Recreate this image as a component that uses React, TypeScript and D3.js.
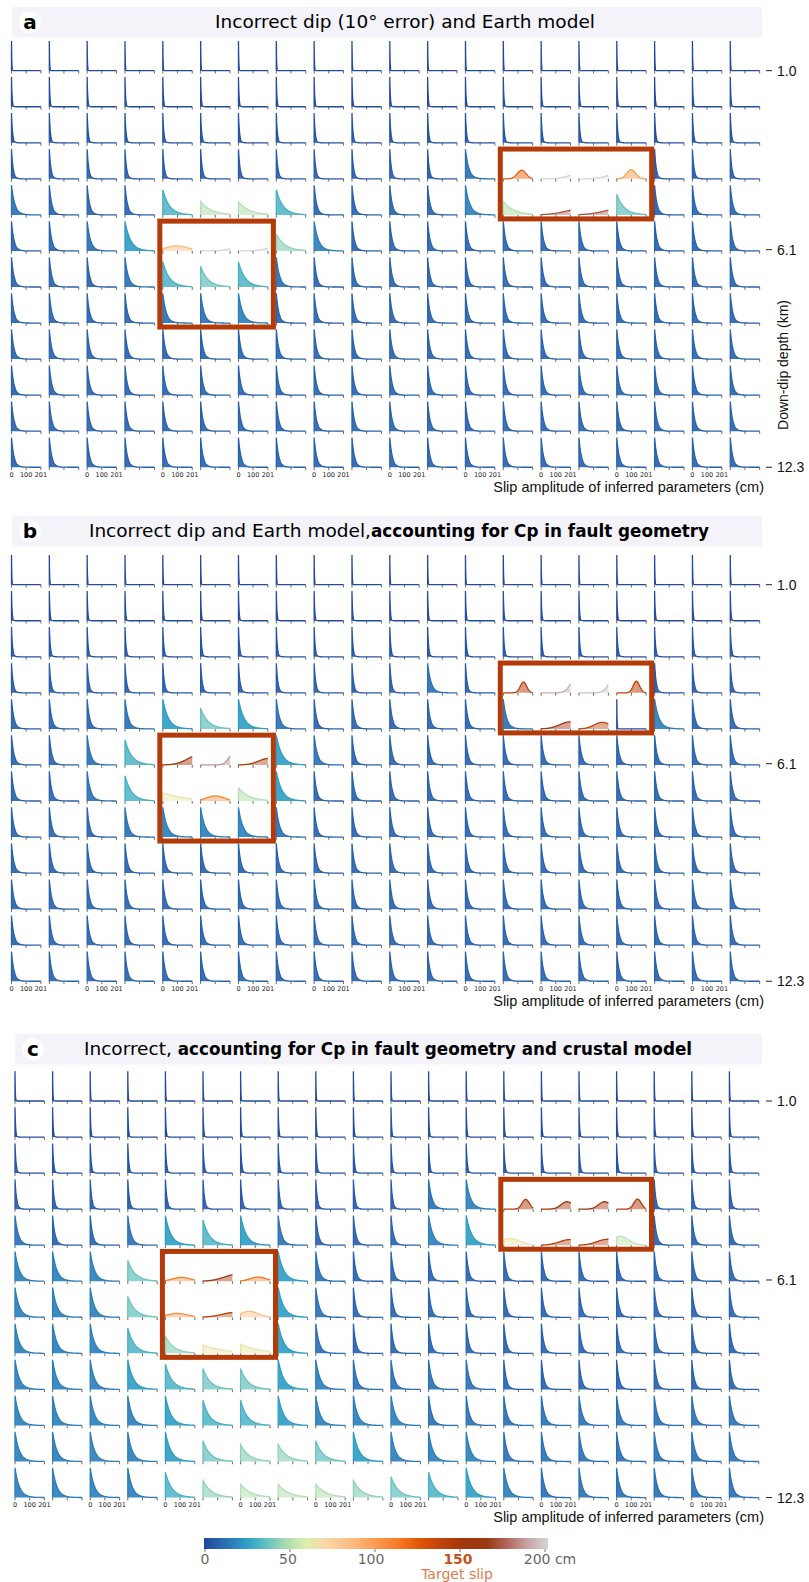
import React from "react";
import * as d3 from "d3";

// ---------------- data ----------------
const xTickValues = [0, 100, 201];
const xTickLabels = ["0", "100", "201"];
const depthTicks = [1.0, 6.1, 12.3];
const colorbarTicks = [0, 50, 100, 150, 200];
const colorbarTickLabels = ["0", "50", "100", "150", "200 cm"];

// decay levels used in the grids: e-folding scale (cm), peak height (fraction), colour slip (cm)
const levelCodes = "0123456789abc";
const levelScale = [2, 4, 7, 11, 17, 23, 30, 38, 45, 50, 58, 70, 120];
const levelPeak = [1, 1, 1, 1, 1, 1, 1, 1, 0.85, 0.7, 0.57, 0.45, 0.3];
const levelSlip = [1, 2, 4, 6, 8, 12, 16, 24, 30, 37, 43, 50, 63];

// rows = down-dip (12), cols = along strike (20); "." = special cell
const gridA = [
  "00000000000000000000",
  "11111111111111111111",
  "22222222222222222222",
  "3333333333335....333",
  "54448bb844446b..9444",
  "4457...a644444444444",
  "44458985444444444444",
  "44445564444444444444",
  "44444444444444444444",
  "44444444444444444444",
  "44444444444444444444",
  "44444444444444444444",
];
const gridB = [
  "00000000000000000000",
  "11111111111111111111",
  "22222222222222222222",
  "3333333333353....333",
  "44457975444445a..644",
  "4458...7544444444444",
  "4458..b7444444444444",
  "44456665444444444444",
  "44444444444444444444",
  "44444444444444444444",
  "44444444444444444444",
  "44444444444444444444",
];
const gridC = [
  "00000000000000000000",
  "11111111111111111111",
  "22222222222222222222",
  "3333333333356....333",
  "5445787544467....444",
  "6669...7544444444444",
  "6669...7544444444444",
  "6668a..7544444444444",
  "66678997655554444444",
  "66667887666555555555",
  "666679aa976665555555",
  "66668abbba9876555555",
];

// special cells: kind "n" = truncated normal (mu, sd), "e" = decay (scale)
type Special = { row: number; col: number; kind: string; p1: number; p2: number; peak: number; slip: number };
const specialsA: Special[] = [
  { row: 3, col: 13, kind: "n", p1: 125, p2: 30, peak: 0.29, slip: 122 },
  { row: 3, col: 14, kind: "n", p1: 320, p2: 90, peak: 0.13, slip: 200 },
  { row: 3, col: 15, kind: "n", p1: 320, p2: 90, peak: 0.12, slip: 200 },
  { row: 3, col: 16, kind: "n", p1: 98, p2: 30, peak: 0.31, slip: 100 },
  { row: 4, col: 14, kind: "n", p1: 330, p2: 130, peak: 0.16, slip: 172 },
  { row: 4, col: 15, kind: "n", p1: 330, p2: 130, peak: 0.16, slip: 172 },
  { row: 5, col: 4, kind: "n", p1: 95, p2: 75, peak: 0.17, slip: 88 },
  { row: 5, col: 5, kind: "n", p1: 330, p2: 80, peak: 0.08, slip: 200 },
  { row: 5, col: 6, kind: "n", p1: 330, p2: 90, peak: 0.1, slip: 200 },
];
const specialsB: Special[] = [
  { row: 3, col: 13, kind: "n", p1: 138, p2: 22, peak: 0.36, slip: 142 },
  { row: 3, col: 14, kind: "n", p1: 240, p2: 40, peak: 0.3, slip: 190 },
  { row: 3, col: 15, kind: "n", p1: 240, p2: 40, peak: 0.28, slip: 195 },
  { row: 3, col: 16, kind: "n", p1: 134, p2: 22, peak: 0.39, slip: 138 },
  { row: 4, col: 14, kind: "n", p1: 200, p2: 70, peak: 0.24, slip: 150 },
  { row: 4, col: 15, kind: "n", p1: 160, p2: 55, peak: 0.22, slip: 138 },
  { row: 5, col: 4, kind: "n", p1: 250, p2: 80, peak: 0.28, slip: 152 },
  { row: 5, col: 5, kind: "n", p1: 240, p2: 40, peak: 0.3, slip: 185 },
  { row: 5, col: 6, kind: "n", p1: 210, p2: 70, peak: 0.22, slip: 145 },
  { row: 6, col: 4, kind: "e", p1: 150, p2: 0, peak: 0.28, slip: 63 },
  { row: 6, col: 5, kind: "n", p1: 100, p2: 60, peak: 0.17, slip: 108 },
];
const specialsC: Special[] = [
  { row: 3, col: 13, kind: "n", p1: 150, p2: 25, peak: 0.33, slip: 145 },
  { row: 3, col: 14, kind: "n", p1: 175, p2: 40, peak: 0.25, slip: 150 },
  { row: 3, col: 15, kind: "n", p1: 175, p2: 40, peak: 0.25, slip: 150 },
  { row: 3, col: 16, kind: "n", p1: 143, p2: 25, peak: 0.34, slip: 145 },
  { row: 4, col: 13, kind: "n", p1: 40, p2: 70, peak: 0.22, slip: 65 },
  { row: 4, col: 14, kind: "n", p1: 195, p2: 70, peak: 0.19, slip: 142 },
  { row: 4, col: 15, kind: "n", p1: 195, p2: 70, peak: 0.2, slip: 142 },
  { row: 4, col: 16, kind: "n", p1: 25, p2: 55, peak: 0.3, slip: 52 },
  { row: 5, col: 4, kind: "n", p1: 110, p2: 60, peak: 0.13, slip: 112 },
  { row: 5, col: 5, kind: "n", p1: 240, p2: 90, peak: 0.22, slip: 150 },
  { row: 5, col: 6, kind: "n", p1: 120, p2: 55, peak: 0.14, slip: 115 },
  { row: 6, col: 4, kind: "n", p1: 80, p2: 70, peak: 0.13, slip: 105 },
  { row: 6, col: 5, kind: "n", p1: 220, p2: 90, peak: 0.16, slip: 140 },
  { row: 6, col: 6, kind: "n", p1: 60, p2: 60, peak: 0.2, slip: 85 },
  { row: 7, col: 5, kind: "e", p1: 140, p2: 0, peak: 0.28, slip: 65 },
  { row: 7, col: 6, kind: "e", p1: 130, p2: 0, peak: 0.31, slip: 63 },
];

// colour map (slip in cm -> colour)
const cmapStops = [0, 5, 15, 24, 34, 44, 52, 60, 70, 85, 100, 115, 125, 138, 150, 165, 176, 188, 200];
const cmapColors = [
  "#22459a", "#2557a7", "#2a79b8", "#2e9cc3", "#55bbc3", "#93d3b7", "#bfe3b0", "#dfedad",
  "#fad9aa", "#fcbd83", "#fb9b4f", "#f3741f", "#e15608", "#bf420a", "#a3360c", "#9b3915",
  "#b3655e", "#c7a5a4", "#d5d5d5",
];

// highlighted blocks (cells)
const highlightBoxes = [
  { c0: 4, c1: 6, r0: 5, r1: 7 },
  { c0: 13, c1: 16, r0: 3, r1: 4 },
];

// ---------------- layout ----------------
const W = 809;
const H = 1582;
const pitchY = 36.05;
const cellW = 29.4;
const cellH = 29.7;

const panels = [
  {
    letter: "a", grid: gridA, specials: specialsA, left: 11.5, pitchX: 37.83, base0: 70.7,
    headerY: 7, headerX0: 12, titleX: 405, depthLabel: true,
    title: [{ t: "Incorrect dip (10° error) and Earth model", b: false }],
  },
  {
    letter: "b", grid: gridB, specials: specialsB, left: 11.5, pitchX: 37.83, base0: 584.7,
    headerY: 516, headerX0: 12, titleX: 399, depthLabel: false,
    title: [
      { t: "Incorrect dip and Earth model,", b: false },
      { t: "accounting for Cp in fault geometry", b: true },
    ],
  },
  {
    letter: "c", grid: gridC, specials: specialsC, left: 15, pitchX: 37.6, base0: 1101,
    headerY: 1034, headerX0: 15, titleX: 388, depthLabel: false,
    title: [
      { t: "Incorrect, ", b: false },
      { t: "accounting for Cp in fault geometry and crustal model", b: true },
    ],
  },
];

const cmap = d3.scaleLinear<string>().domain(cmapStops).range(cmapColors).interpolate(d3.interpolateRgb).clamp(true);

const sampleXs = d3.range(0, 141).map((i) => 201 * Math.pow(i / 140, 2));

function curvePoints(kind: string, p1: number, p2: number, peak: number): [number, number][] {
  if (kind === "e") {
    return sampleXs.map((x) => [x, peak * Math.exp(-x / p1)]);
  }
  const g = (x: number) => Math.exp(-((x - p1) * (x - p1)) / (2 * p2 * p2));
  const gmax = g(Math.max(0, Math.min(201, p1)));
  return sampleXs.map((x) => [x, (peak * g(x)) / gmax]);
}

function Cell({ x0, base, kind, p1, p2, peak, slip }: any) {
  const xs = d3.scaleLinear().domain([0, 201]).range([x0, x0 + cellW]);
  const ys = d3.scaleLinear().domain([0, 1]).range([base, base - cellH]).clamp(true);
  const pts = curvePoints(kind, p1, p2, peak);
  const area = d3.area<[number, number]>().x((d) => xs(d[0])).y0(base).y1((d) => ys(d[1]));
  const line = d3.line<[number, number]>().x((d) => xs(d[0])).y((d) => ys(d[1]));
  const col = cmap(slip);
  const fo = 0.3 + 0.6 * peak;
  return (
    <g>
      <path d={area(pts) || ""} fill={col} fillOpacity={fo} stroke="none" />
      <path d={line([[0, 0] as [number, number], ...pts]) || ""} fill="none" stroke={col} strokeWidth={1.3} />
      {xTickValues.map((t) => (
        <line key={t} x1={xs(t)} x2={xs(t)} y1={base} y2={base + 2.8} stroke="#444" strokeWidth={0.8} />
      ))}
    </g>
  );
}

function Panel({ p }: any) {
  const base = (r: number) => p.base0 + r * pitchY;
  const colX = (c: number) => p.left + c * p.pitchX;
  const specMap = new Map<string, Special>();
  p.specials.forEach((s: Special) => specMap.set(`${s.row}-${s.col}`, s));
  const cells: any[] = [];
  p.grid.forEach((rowStr: string, r: number) => {
    for (let c = 0; c < 20; c++) {
      const ch = rowStr[c];
      const sp = specMap.get(`${r}-${c}`);
      let props;
      if (sp) {
        props = { kind: sp.kind, p1: sp.p1, p2: sp.p2, peak: sp.peak, slip: sp.slip };
      } else {
        const li = Math.max(0, levelCodes.indexOf(ch));
        props = { kind: "e", p1: levelScale[li], p2: 0, peak: levelPeak[li], slip: levelSlip[li] };
      }
      cells.push(<Cell key={`${r}-${c}`} x0={colX(c)} base={base(r)} {...props} />);
    }
  });
  const lastBase = base(11);
  const depth = d3.scaleLinear().domain([1.0, 12.3]).range([base(0), base(11)]);
  const headerH = 30.5;
  const hc = p.headerY + headerH / 2;
  return (
    <g>
      <rect x={p.headerX0} y={p.headerY} width={762 - p.headerX0} height={headerH} fill="#f3f3f9" />
      <circle cx={p.headerX0 + 18} cy={hc} r={11} fill="#ffffff" />
      <text x={p.headerX0 + 18} y={hc} dy="0.36em" textAnchor="middle" fontFamily="DejaVu Sans" fontWeight="bold" fontSize={20} fill="#000">
        {p.letter}
      </text>
      <text x={p.titleX} y={hc} dy="0.36em" textAnchor="middle" fontFamily="DejaVu Sans" fill="#000">
        {p.title.map((s: any, i: number) => (
          <tspan key={i} fontWeight={s.b ? "bold" : "normal"} fontSize={s.b ? 16.8 : 18.5}>{s.t}</tspan>
        ))}
      </text>
      {cells}
      {/* tick labels under bottom row, every other column */}
      {d3.range(0, 20, 2).map((c) => {
        const xs = d3.scaleLinear().domain([0, 201]).range([colX(c), colX(c) + cellW]);
        return (
          <g key={c}>
            {xTickValues.map((t, i) => (
              <text key={t} x={xs(t)} y={lastBase + 9.3} textAnchor="middle" fontFamily="DejaVu Sans" fontSize={6.5} fill="#222">
                {xTickLabels[i]}
              </text>
            ))}
          </g>
        );
      })}
      {/* highlight boxes */}
      {highlightBoxes.map((b, i) => {
        const x1 = colX(b.c0) - 3;
        const x2 = colX(b.c1) + cellW + 5.5;
        const y1 = base(b.r0) - 29.8;
        const y2 = base(b.r1) + 4;
        return <rect key={i} x={x1} y={y1} width={x2 - x1} height={y2 - y1} fill="none" stroke="#b33b0a" strokeWidth={5} />;
      })}
      {/* right depth axis */}
      {depthTicks.map((d) => (
        <g key={d}>
          <line x1={766} x2={772} y1={depth(d)} y2={depth(d)} stroke="#222" strokeWidth={1} />
          <text x={777} y={depth(d)} dy="0.36em" fontFamily="Liberation Sans" fontSize={14} fill="#111">
            {d.toFixed(1)}
          </text>
        </g>
      ))}
      {p.depthLabel && (
        <text transform={`translate(783,${365}) rotate(-90)`} textAnchor="middle" dy="0.36em" fontFamily="Liberation Sans" fontSize={14} fill="#111">
          Down-dip depth (km)
        </text>
      )}
      <text x={764} y={lastBase + 24.5} textAnchor="end" fontFamily="Liberation Sans" fontSize={14.5} fill="#111">
        Slip amplitude of inferred parameters (cm)
      </text>
    </g>
  );
}

function Colorbar() {
  const cb = d3.scaleLinear().domain([0, 200]).range([205, 545]);
  const stops = d3.range(0, 201, 2);
  return (
    <g>
      <defs>
        <linearGradient id="cbgrad" x1="0" x2="1" y1="0" y2="0">
          {stops.map((s) => (
            <stop key={s} offset={`${(s / 200) * 100}%`} stopColor={cmap(s)} />
          ))}
        </linearGradient>
      </defs>
      <rect x={204} y={1538} width={344} height={11} fill="url(#cbgrad)" />
      {colorbarTicks.map((t, i) => (
        <g key={t}>
          <line x1={cb(t)} x2={cb(t)} y1={1549} y2={1552} stroke="#555" strokeWidth={0.8} />
          <text
            x={cb(t) + (i === 4 ? 5 : i === 2 ? -4 : i === 1 ? -2 : i === 3 ? -2 : 0)}
            y={1564}
            textAnchor="middle"
            fontFamily="DejaVu Sans"
            fontSize={14}
            fontWeight={t === 150 ? "bold" : "normal"}
            fill={t === 150 ? "#c4521c" : "#666"}
          >
            {colorbarTickLabels[i]}
          </text>
        </g>
      ))}
      <text x={cb(150) - 3} y={1579} textAnchor="middle" fontFamily="DejaVu Sans" fontSize={14} fill="#e07b50">
        Target slip
      </text>
    </g>
  );
}

export default function App() {
  return (
    <svg width={W} height={H} style={{ position: "absolute", left: 0, top: 0, background: "#fff" }}>
      <rect x={0} y={0} width={W} height={H} fill="#fff" />
      {panels.map((p) => (
        <Panel key={p.letter} p={p} />
      ))}
      <Colorbar />
    </svg>
  );
}
